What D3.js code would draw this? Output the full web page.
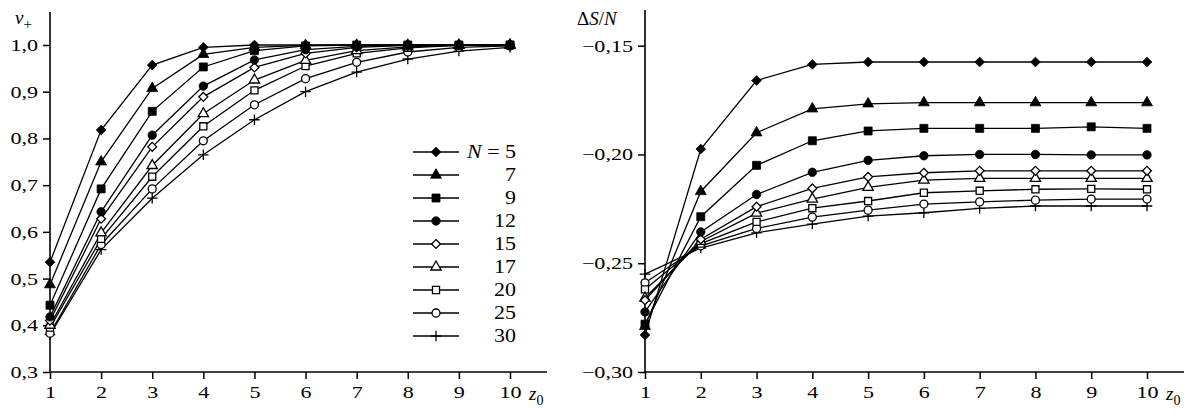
<!DOCTYPE html>
<html>
<head>
<meta charset="utf-8">
<script src="https://cdn.jsdelivr.net/npm/d3@7"></script>
<style>
  body { margin: 0; background: #fff; }
  svg text { font-family: "Liberation Serif", "Times New Roman", serif; fill: #000; }
  .tick text { font-size: 17px; }
  .tick line { stroke: #000; stroke-width: 1.5; }
</style>
</head>
<body>
<svg id="chart" width="1195" height="415"></svg>
<script>
// z0 values (x axis) and particle numbers N
const zValues = [1, 2, 3, 4, 5, 6, 7, 8, 9, 10];
const nValues = [5, 7, 9, 12, 15, 17, 20, 25, 30];

// left panel: v+ for each N
const vN5  = [0.535, 0.818, 0.957, 0.995, 1.000, 1.000, 1.000, 1.000, 1.000, 1.000];
const vN7  = [0.487, 0.750, 0.907, 0.980, 0.995, 0.999, 1.000, 1.000, 1.000, 1.000];
const vN9  = [0.443, 0.692, 0.858, 0.953, 0.988, 0.998, 1.000, 1.000, 1.000, 1.000];
const vN12 = [0.418, 0.643, 0.807, 0.912, 0.968, 0.990, 0.997, 1.000, 1.000, 1.000];
const vN15 = [0.410, 0.628, 0.782, 0.889, 0.952, 0.982, 0.995, 0.999, 1.000, 1.000];
const vN17 = [0.400, 0.598, 0.742, 0.853, 0.925, 0.967, 0.988, 0.996, 0.999, 1.000];
const vN20 = [0.395, 0.585, 0.718, 0.826, 0.903, 0.955, 0.982, 0.994, 0.999, 1.000];
const vN25 = [0.383, 0.573, 0.692, 0.795, 0.872, 0.928, 0.963, 0.985, 0.995, 0.998];
const vN30 = [0.380, 0.562, 0.672, 0.765, 0.840, 0.900, 0.942, 0.970, 0.987, 0.995];

// right panel: dS/N for each N
const sN5  = [-0.283, -0.1975, -0.166, -0.1586, -0.1575, -0.1575, -0.1575, -0.1575, -0.1575, -0.1575];
const sN7  = [-0.279, -0.217, -0.190, -0.179, -0.1767, -0.1762, -0.1762, -0.1762, -0.1762, -0.1762];
const sN9  = [-0.278, -0.2286, -0.205, -0.1937, -0.1892, -0.188, -0.188, -0.188, -0.1873, -0.188];
const sN12 = [-0.2724, -0.2356, -0.2184, -0.2082, -0.2027, -0.2006, -0.200, -0.200, -0.2002, -0.2002];
const sN15 = [-0.267, -0.239, -0.224, -0.2156, -0.2103, -0.2084, -0.2075, -0.2075, -0.2075, -0.2075];
const sN17 = [-0.266, -0.240, -0.227, -0.2205, -0.2151, -0.2118, -0.211, -0.211, -0.211, -0.211];
const sN20 = [-0.262, -0.241, -0.231, -0.2247, -0.2214, -0.2176, -0.2167, -0.216, -0.2158, -0.216];
const sN25 = [-0.259, -0.242, -0.234, -0.2288, -0.2256, -0.2228, -0.2218, -0.221, -0.2205, -0.2205];
const sN30 = [-0.255, -0.243, -0.236, -0.232, -0.2283, -0.2268, -0.2248, -0.2237, -0.2237, -0.2237];

const vTicks = [0.3, 0.4, 0.5, 0.6, 0.7, 0.8, 0.9, 1.0];
const sTicks = [-0.30, -0.25, -0.20, -0.15];

const vSeries = [vN5, vN7, vN9, vN12, vN15, vN17, vN20, vN25, vN30];
const sSeries = [sN5, sN7, sN9, sN12, sN15, sN17, sN20, sN25, sN30];

// marker per N: symbol type, filled or open, size
const markers = [
    {type: d3.symbolDiamond2, fill: true,  size: 60},
    {type: d3.symbolTriangle, fill: true,  size: 52},
    {type: d3.symbolSquare,   fill: true,  size: 64},
    {type: d3.symbolCircle,   fill: true,  size: 56},
    {type: d3.symbolDiamond2, fill: false, size: 50},
    {type: d3.symbolTriangle, fill: false, size: 46},
    {type: d3.symbolSquare,   fill: false, size: 50},
    {type: d3.symbolCircle,   fill: false, size: 50},
    {type: d3.symbolPlus,     fill: false, size: 38}
];

// the original lettering is a bit wide, so text gets stretched sideways
const textStretch = 1.3;

const locale = d3.formatLocale({decimal: ",", thousands: " ", grouping: [3], currency: ["", ""], minus: "\u2212"});

let svg = d3.select("#chart");

function drawMarker(g, m, x, y) {
    let sym = d3.symbol().type(m.type).size(m.size);
    let p = g.append("path")
        .attr("d", sym())
        .attr("transform", "translate(" + x + "," + y + ")")
        .style("stroke", "#000")
        .style("stroke-width", m.fill ? 0.8 : 1.3);
    if (m.type === d3.symbolPlus) {
        p.style("fill", "none");
    } else {
        p.style("fill", m.fill ? "#000" : "#fff");
    }
}

function drawPanel(opts) {
    let x = d3.scaleLinear().domain([1, 10]).range(opts.xRange);
    let y = d3.scaleLinear().domain(opts.yDomain).range([372, opts.yTop]);

    let g = svg.append("g");

    // axes
    g.append("g")
        .attr("transform", "translate(0,372)")
        .call(d3.axisBottom(x).tickValues(zValues).tickSize(7).tickPadding(7).tickSizeOuter(0).tickFormat(d3.format("d")))
        .call(a => a.select(".domain").remove())
        .attr("font-family", null)
        .selectAll("text")
        .attr("transform", "scale(" + textStretch + ",1)");

    g.append("g")
        .attr("transform", "translate(" + opts.xRange[0] + ",0)")
        .call(d3.axisLeft(y).tickValues(opts.ticks).tickSize(7).tickPadding(5).tickSizeOuter(0).tickFormat(opts.fmt))
        .call(a => a.select(".domain").remove())
        .attr("font-family", null)
        .selectAll("text")
        .attr("x", -12 / textStretch)
        .attr("transform", "scale(" + textStretch + ",1)");

    g.append("line")
        .attr("x1", opts.xRange[0]).attr("x2", opts.xEnd)
        .attr("y1", 372).attr("y2", 372)
        .style("stroke", "#000").style("stroke-width", 1.6);
    g.append("line")
        .attr("x1", opts.xRange[0]).attr("x2", opts.xRange[0])
        .attr("y1", 372).attr("y2", opts.axisTop)
        .style("stroke", "#000").style("stroke-width", 1.6);

    // series lines
    let line = d3.line()
        .x((d, i) => x(zValues[i]))
        .y(d => y(d));

    opts.series.forEach(function(s) {
        g.append("path")
            .attr("d", line(s))
            .style("fill", "none")
            .style("stroke", "#000")
            .style("stroke-width", 1.3);
    });

    // markers, drawn last series first so the filled ones sit on top
    for (let k = opts.series.length - 1; k >= 0; k--) {
        opts.series[k].forEach(function(v, i) {
            drawMarker(g, markers[k], x(zValues[i]), y(v));
        });
    }

    // x label z0
    let zl = g.append("text")
        .attr("x", opts.zLabelX)
        .attr("y", 400)
        .style("font-size", "19px")
        .style("font-style", "italic");
    zl.append("tspan").text("z");
    zl.append("tspan").attr("dy", 5).style("font-size", "14px").style("font-style", "normal").text("0");

    return g;
}

// left panel: v+
let left = drawPanel({
    xRange: [50, 510], xEnd: 547, yDomain: [0.3, 1.0], yTop: 45, axisTop: 12,
    ticks: vTicks, fmt: locale.format(".1f"), series: vSeries, zLabelX: 529
});

let vl = left.append("text").attr("x", 15).attr("y", 24).style("font-size", "19px");
vl.append("tspan").style("font-style", "italic").text("v");
vl.append("tspan").attr("dy", 5).style("font-size", "15px").text("+");

// right panel: dS/N
let right = drawPanel({
    xRange: [645, 1147], xEnd: 1184, yDomain: [-0.30, -0.15], yTop: 45.7, axisTop: 10,
    ticks: sTicks, fmt: locale.format(".2f"), series: sSeries, zLabelX: 1166
});

let sl = right.append("text").attr("x", 577).attr("y", 25).style("font-size", "19px");
sl.append("tspan").text("\u0394");
sl.append("tspan").style("font-style", "italic").text("S");
sl.append("tspan").text("/");
sl.append("tspan").style("font-style", "italic").text("N");

// legend
let legend = svg.append("g");
nValues.forEach(function(n, i) {
    let ly = 152 + i * 23;
    legend.append("line")
        .attr("x1", 413).attr("x2", 459)
        .attr("y1", ly).attr("y2", ly)
        .style("stroke", "#000").style("stroke-width", 1.3);
    drawMarker(legend, markers[i], 436, ly);
    let t = legend.append("text")
        .attr("x", 516 / 1.22)
        .attr("y", ly + 6)
        .attr("transform", "scale(1.22,1)")
        .attr("text-anchor", "end")
        .style("font-size", "18px");
    if (i === 0) {
        t.append("tspan").style("font-style", "italic").text("N");
        t.append("tspan").text(" = " + n);
    } else {
        t.text(n);
    }
});
</script>
</body>
</html>
